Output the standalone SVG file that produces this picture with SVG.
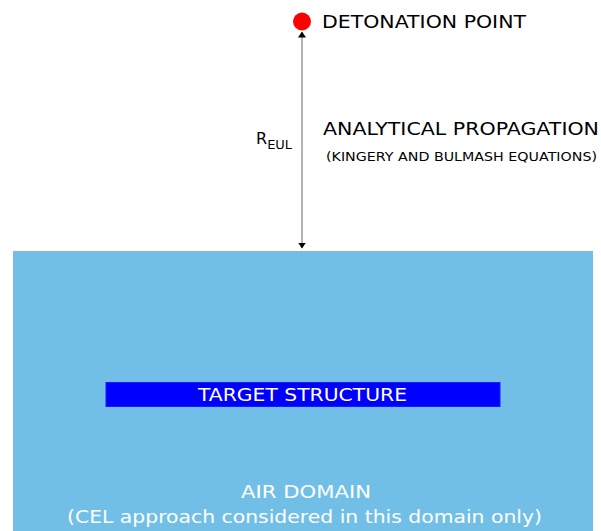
<svg xmlns="http://www.w3.org/2000/svg" width="601" height="531" viewBox="0 0 601 531">
<style>
text{font-family:"DejaVu Sans",Verdana,sans-serif;}
.dark{fill:#000;}
.white{fill:#fff;}
</style>
<defs>
<marker id="ah" viewBox="0 0 6 8" refX="5.5" refY="4" markerWidth="6" markerHeight="8" markerUnits="userSpaceOnUse" orient="auto-start-reverse">
<path d="M0,0 L6,4 L0,8 Z" fill="#000"/>
</marker>
</defs>
<rect width="601" height="531" fill="#fff"/>
<g id="air-domain">
<rect x="13" y="251" width="580" height="280" fill="#71BFE6"/>
<text x="241" y="498" font-size="18.5" textLength="130" lengthAdjust="spacingAndGlyphs" class="white">AIR DOMAIN</text>
<text x="67" y="523" font-size="18.5" textLength="475" lengthAdjust="spacingAndGlyphs" class="white">(CEL approach considered in this domain only)</text>
</g>
<g id="target-structure">
<rect x="106" y="382.5" width="394" height="24" fill="#0000FF" stroke="#1a1aff" stroke-width="1"/>
<text x="198" y="401" font-size="18.5" textLength="209" lengthAdjust="spacingAndGlyphs" class="white">TARGET STRUCTURE</text>
</g>
<g id="detonation-point">
<circle cx="302" cy="21.5" r="9" fill="#FF0000"/>
<text x="322" y="28" font-size="18.5" textLength="204" lengthAdjust="spacingAndGlyphs" class="dark">DETONATION POINT</text>
</g>
<g id="connectors">
<line x1="302" y1="32" x2="302" y2="248" stroke="#808080" stroke-width="1.2" marker-start="url(#ah)" marker-end="url(#ah)"/>
</g>
<g id="labels">
<text x="256" y="144" font-size="16" class="dark">R<tspan font-size="12" dy="5" textLength="25" lengthAdjust="spacingAndGlyphs">EUL</tspan></text>
<text x="323" y="135" font-size="18.5" textLength="276" lengthAdjust="spacingAndGlyphs" class="dark">ANALYTICAL PROPAGATION</text>
<text x="326" y="161" font-size="12.5" textLength="271" lengthAdjust="spacingAndGlyphs" class="dark">(KINGERY AND BULMASH EQUATIONS)</text>
</g>
</svg>
